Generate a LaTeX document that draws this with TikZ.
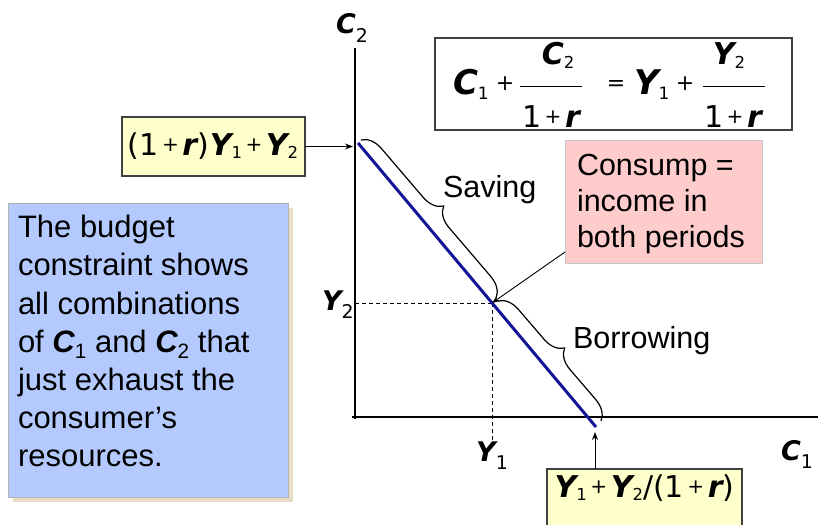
\documentclass[tikz,border=0pt]{standalone}
\usepackage{fontspec}
\setmainfont{Liberation Sans}
\newfontfamily\verd{DejaVu Sans}
\usetikzlibrary{decorations.pathreplacing,arrows.meta}
\definecolor{budgetblue}{RGB}{20,20,150}
\definecolor{infoblue}{RGB}{180,202,255}
\definecolor{shadowtan}{RGB}{232,222,198}
\definecolor{pinkbox}{RGB}{255,204,204}
\definecolor{ylw}{RGB}{255,255,204}
\definecolor{boxgray}{RGB}{64,64,64}
\makeatletter
\newcommand\sbs[3]{\raisebox{-#1em}{\fontsize{\fpeval{#2*\f@size}}{1}\selectfont\mdseries\upshape #3}}
\newcommand\pl{\kern3.5pt\raisebox{0.13em}{\fontsize{\fpeval{0.67*\f@size}}{1}\selectfont\mdseries\upshape+}\kern3.5pt}
\makeatother
\newcommand\bi[1]{{\bfseries\itshape #1}}
\begin{document}
\begin{tikzpicture}[x=1pt,y=-1pt,
  every node/.style={inner sep=0pt, outer sep=0pt},
  arr/.style={draw=black, line width=1pt, -{Stealth[length=8pt,width=6pt]}},
  axisline/.style={draw=black, line width=1.2pt},
  budget/.style={draw=budgetblue, line width=3pt},
  guide/.style={draw=black, line width=0.9pt, dash pattern=on 4pt off 3pt},
  brc/.style={draw=black, line width=1.2pt, decorate, decoration={brace, amplitude=20pt}},
  ybox/.style={draw=boxgray, line width=1.3pt, fill=ylw, anchor=north west},
  vbig/.style={font=\verd\fontsize{34}{38}\selectfont},
  vmid/.style={font=\verd\fontsize{30}{32}\selectfont},
  vop/.style={font=\verd\fontsize{22}{24}\selectfont},
  vlab/.style={font=\verd\fontsize{27}{29}\selectfont},
  atext/.style={font=\fontsize{30.5}{35.7}\selectfont, align=left},
  fracbar/.style={draw=black, line width=1pt}
]
\useasboundingbox (0,0) rectangle (818,524);
\clip (0,0) rectangle (818,524);

% axes
\coordinate (O) at (355,417);
\coordinate (Ytop) at (355,48);
\coordinate (Xend) at (818,417);
\draw[axisline] (Ytop) -- (355,418.5);
\draw[axisline] (352,417) -- (Xend);

% budget line and endowment point
\coordinate (P1) at (358,143);
\coordinate (P2) at (596,427);
\coordinate (E) at (492,303);
\draw[guide] (E -| O) -- (E);
\draw[guide] (E) -- (492,440);
\draw[budget] (P1) -- (P2);

% braces
\coordinate (sA) at (361,140);
\coordinate (sB) at (496,298);
\coordinate (bA) at (498,301);
\coordinate (bB) at (601,421);
\draw[brc] (sA) -- (sB);
\draw[brc] (bA) -- (bB);
\node[anchor=base west, atext] (saving) at (443,197) {Saving};
\node[anchor=base west, atext] (borrowing) at (573,348) {Borrowing};

% axis labels
\node[anchor=base west, vlab] (c2lab) at (336,34) {\bi{C}\sbs{0.3}{0.7}{2}};
\node[anchor=base west, vlab] (c1lab) at (781,460) {\bi{C}\sbs{0.3}{0.7}{1}};
\node[anchor=base west, vlab] (y2lab) at (322,310) {\bi{Y}\sbs{0.3}{0.7}{2}};
\node[anchor=base, vlab] (y1lab) at (492,461) {\bi{Y}\sbs{0.3}{0.7}{1}};

% equation box
\node[draw=boxgray, line width=1.5pt, fill=white, minimum width=357pt, minimum height=92pt, anchor=north west] (eqbox) at (435,38) {};
\node[anchor=base west, vbig] (eqC1) at (453,95) {\bi{C}\sbs{0.12}{0.5}{1}};
\node[vop] (eqplusA) at (505,84) {+};
\draw[fracbar] (520,87) -- (582,87);
\node[anchor=base, vmid] (eqnumA) at (558,65) {\bi{C}\sbs{0.12}{0.55}{2}};
\node[anchor=base, vmid] (eqdenA) at (551,127) {1\pl\bi{r}};
\node[vop] (eqeq) at (616,86) {=};
\node[anchor=base west, vbig] (eqY1) at (634,95) {\bi{Y}\sbs{0.12}{0.5}{1}};
\node[vop] (eqplusB) at (685,84) {+};
\draw[fracbar] (703,87) -- (765,87);
\node[anchor=base, vmid] (eqnumB) at (729,65) {\bi{Y}\sbs{0.12}{0.55}{2}};
\node[anchor=base, vmid] (eqdenB) at (733,127) {1\pl\bi{r}};

% yellow boxes
\node[ybox, minimum width=183pt, minimum height=59pt] (yA) at (122,117) {};
\node[anchor=base, vmid] (yAtext) at (213,155) {(1\pl\bi{r})\kern1pt\bi{Y}\sbs{0.1}{0.55}{1}\pl\bi{Y}\sbs{0.1}{0.55}{2}};
\coordinate (aL) at (353,146.5);
\draw[arr] (yA.east) -- (aL);

\node[ybox, minimum width=195pt, minimum height=70pt] (yB) at (547,469) {};
\node[anchor=base, vmid] (yBtext) at (644.5,497) {\bi{Y}\sbs{0.1}{0.55}{1}\pl\bi{Y}\sbs{0.1}{0.55}{2}/(1\pl\bi{r})};
\coordinate (aB) at (595,432);
\draw[arr] (aB |- yB.north) -- (aB);

% consumption box
\node[draw=gray!45, line width=0.8pt, fill=pinkbox, minimum width=197pt, minimum height=123pt, anchor=north west] (cons) at (565,140) {};
\node[anchor=north west, atext] (constext) at (577,154.6) {Consump =\\income in\\both periods};
\coordinate (consfoot) at (565,252);
\draw[draw=black, line width=0.9pt, -{Stealth[length=8pt,width=6pt]}] (consfoot) -- (E);

% info box
\fill[shadowtan] (13,208) rectangle (293,502);
\node[draw=gray!60, line width=0.8pt, fill=infoblue, minimum width=280pt, minimum height=294pt, anchor=north west] (info) at (8,203) {};
\node[anchor=north west, font=\fontsize{31}{38.17}\selectfont, align=left] (infotext) at (18,215.3) {The budget\\constraint shows\\all combinations\\of \bi{C}\sbs{0.2}{0.67}{1} and \bi{C}\sbs{0.2}{0.67}{2} that\\just exhaust the\\consumer’s\\resources.};
\end{tikzpicture}
\end{document}
